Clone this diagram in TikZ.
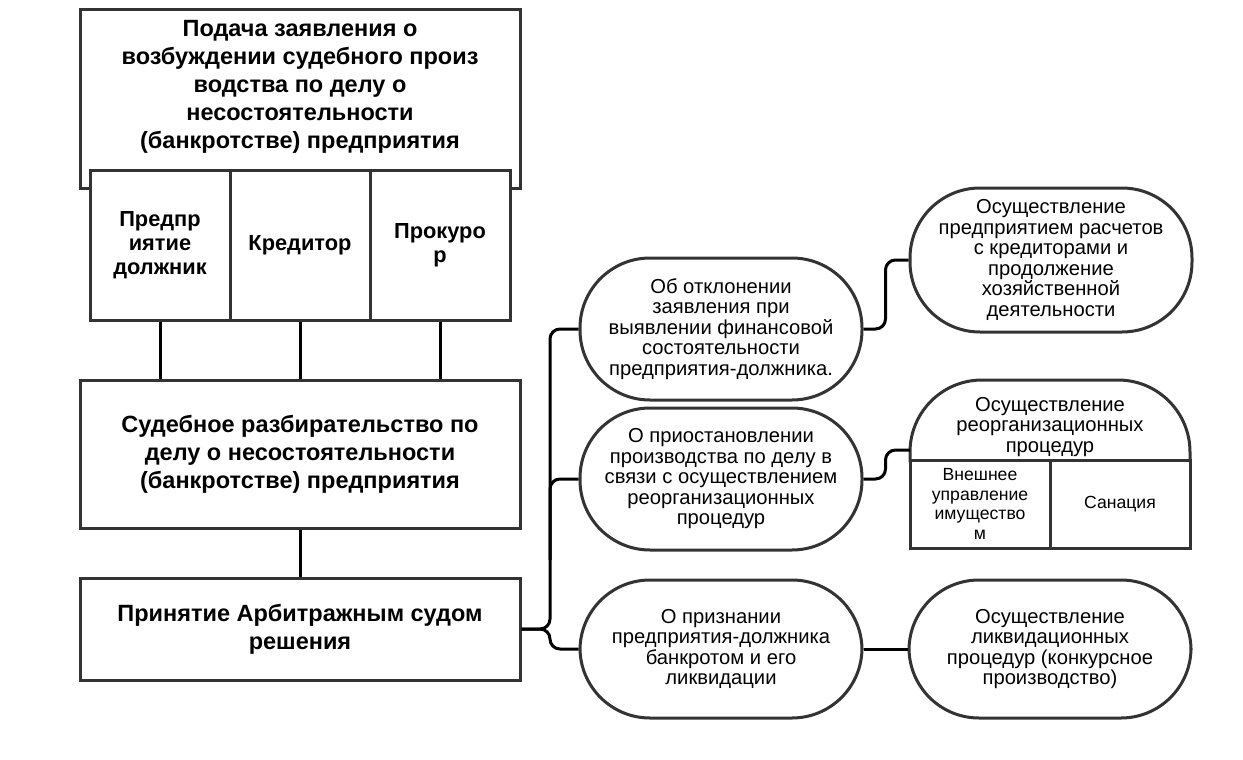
\documentclass[tikz,border=0pt]{standalone}
\usepackage{fontspec}
\setmainfont{Liberation Sans}
\usetikzlibrary{calc}
\begin{document}
\begin{tikzpicture}[x=1pt,y=-1pt,
  box/.style={draw=black!80, line width=3pt, fill=white, inner sep=0pt, align=center,
    font=\bfseries\fontsize{23.5}{28}\selectfont},
  cell/.style={draw=black!80, line width=3pt, fill=white, inner sep=0pt, align=center,
    minimum width=140pt, minimum height=150pt, font=\bfseries\fontsize{21.8}{24}\selectfont},
  stad/.style={draw=black!80, line width=3pt, fill=white, rounded corners=70pt, inner sep=0pt,
    align=center, minimum width=282pt, font=\fontsize{20.2}{20.5}\selectfont},
  small/.style={draw=black!80, line width=3pt, fill=white, inner sep=0pt, align=center,
    minimum width=140pt, minimum height=88pt, font=\fontsize{17.6}{19.5}\selectfont},
  conn/.style={line width=3pt, black, rounded corners=10pt}]
\useasboundingbox (0,0) rectangle (1243,760);
% left column
\node[box, minimum width=440pt, minimum height=178pt] (top) at (300,99) {};
\node[align=center, inner sep=0pt, font=\bfseries\fontsize{23.5}{28}\selectfont] (toptext) at (300,87)
  {Подача заявления о\\возбуждении судебного произ\\водства по делу о\\несостоятельности\\(банкротстве) предприятия};
\node[cell] (c1) at (160,245) {Предпр\\иятие\\должник};
\node[cell] (c2) at (300,245) {Кредитор};
\node[cell] (c3) at (440,245) {Прокуро\\р};
\node[box, minimum width=440pt, minimum height=148pt] (mid) at (300,454)
  {Судебное разбирательство по\\делу о несостоятельности\\(банкротстве) предприятия};
\node[box, minimum width=440pt, minimum height=102pt] (bot) at (300,629)
  {Принятие Арбитражным судом\\решения};
% middle column
\node[stad, minimum height=142pt] (s1) at (721,329)
  {Об отклонении\\заявления при\\выявлении финансовой\\состоятельности\\предприятия-должника.};
\node[stad, minimum height=142pt] (s2) at (721,479)
  {О приостановлении\\производства по делу в\\связи с осуществлением\\реорганизационных\\процедур};
\node[stad, minimum height=138pt] (s3) at (721,649)
  {О признании\\предприятия-должника\\банкротом и его\\ликвидации};
% right column
\node[stad, minimum height=144pt] (r1) at (1051,260)
  {Осуществление\\предприятием расчетов\\с кредиторами и\\продолжение\\хозяйственной\\деятельности};
\draw[draw=black!80, line width=3pt, rounded corners=72pt] (910,462) -- (910,380) -- (1190,380) -- (1190,462);
\node[align=center, inner sep=0pt, font=\fontsize{20.2}{20.5}\selectfont] (domet) at (1050,427)
  {Осуществление\\реорганизационных\\процедур};
\node[small] (vn) at (980,504) {Внешнее\\управление\\имущество\\м};
\node[small] (san) at (1120,504) {Санация};
\node[stad, minimum height=138pt] (r3) at (1050,649)
  {Осуществление\\ликвидационных\\процедур (конкурсное\\производство)};
% connectors
\draw[conn] (c1.south) -- (c1.south |- mid.north);
\draw[conn] (c2.south) -- (c2.south |- mid.north);
\draw[conn] (c3.south) -- (c3.south |- mid.north);
\draw[conn] (mid.south) -- (bot.north);
\coordinate (bus) at (550,629);
\coordinate (busm) at (550,560);
\draw[conn] (bot.east) -- (bus) |- (s1.west);
\draw[conn] (bot.east) -- (bus) |- (s3.west);
\draw[conn] (busm) |- (s2.west);
\draw[conn] (s1.east) -- ++(22,0) |- (r1.west);
\coordinate (domein) at (910,450);
\draw[conn] (s2.east) -- ++(22,0) |- (domein);
\draw[conn] (s3.east) -- (r3.west);
\end{tikzpicture}
\end{document}
